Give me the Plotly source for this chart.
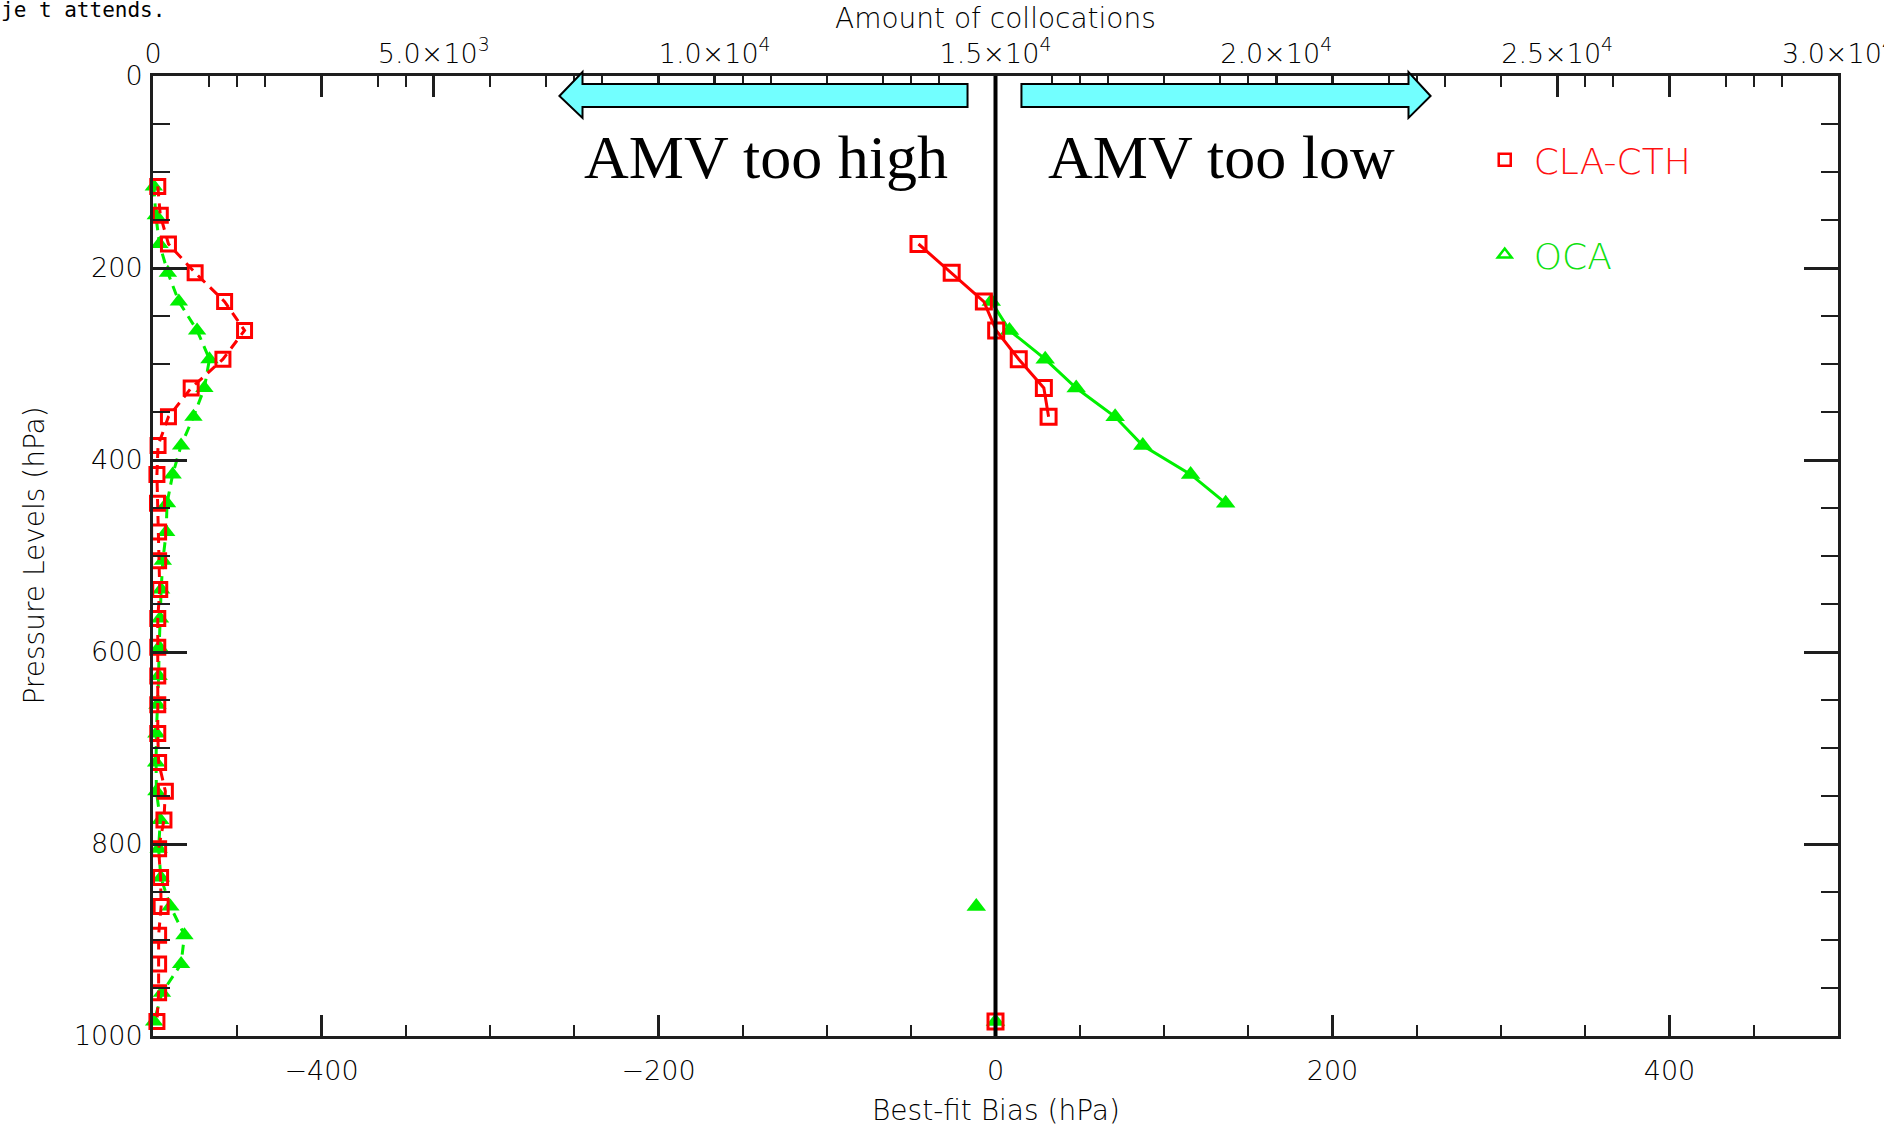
import plotly.graph_objects as go

# ---------------- data ----------------
levels = [115, 145, 175, 205, 235, 265, 295, 325, 355, 385,
          415, 445, 475, 505, 535, 565, 595, 625, 655, 685,
          715, 745, 775, 805, 835, 865, 895, 925, 955, 985]

count_cla = [85, 130, 275, 750, 1275, 1630, 1245, 680, 275, 90,
             70, 80, 100, 100, 120, 85, 85, 85, 85, 85,
             100, 220, 195, 100, 135, 145, 100, 100, 100, 70]

count_oca = [15, 50, 115, 265, 460, 785, 1005, 915, 720, 500,
             350, 250, 235, 175, 145, 125, 110, 100, 80, 60,
             55, 60, 130, 100, 140, 310, 560, 500, 160, 20]

bias_cla = [None, None, -45.7, -26.0, -6.9, 0.4, 13.8, 28.7, 31.5, None,
            None, None, None, None, None, None, None, None, None, None,
            None, None, None, None, None, None, None, None, None, 0.0]

bias_oca = [None, None, None, None, -2.5, 8.3, 29.5, 47.9, 71.0, 87.4,
            115.8, 136.6, None, None, None, None, None, None, None, None,
            None, None, None, None, None, -11.4, None, None, None, 0.0]

count_tickvals = [0, 5000, 10000, 15000, 20000, 25000, 30000]
count_ticktext = ["0", "5.0×10<sup>3</sup>", "1.0×10<sup>4</sup>", "1.5×10<sup>4</sup>",
                  "2.0×10<sup>4</sup>", "2.5×10<sup>4</sup>", "3.0×10<sup>4</sup>"]

series_names = ["CLA-CTH", "OCA"]

# ---------------- style ----------------
RED = "#ff0000"
GREEN = "#00f000"
AX = "#1e1e1e"
TXT = "#000000"
FONT = "DejaVu Sans"
CYAN = "#72ffff"

fig = go.Figure()

# collocation counts (top axis), dashed
fig.add_trace(go.Scatter(
    x=count_oca, y=levels, xaxis="x2", yaxis="y", mode="lines+markers",
    line=dict(color=GREEN, width=3, dash="10px,7px"),
    marker=dict(symbol="triangle-up", size=16, color=GREEN),
    showlegend=False, cliponaxis=False))
fig.add_trace(go.Scatter(
    x=count_cla, y=levels, xaxis="x2", yaxis="y", mode="lines+markers",
    line=dict(color=RED, width=3, dash="10px,7px"),
    marker=dict(symbol="square-open", size=14, color=RED, line=dict(width=3, color=RED)),
    showlegend=False, cliponaxis=False))

# best-fit bias (bottom axis), solid
fig.add_trace(go.Scatter(
    x=bias_oca, y=levels, xaxis="x", yaxis="y", mode="lines+markers",
    line=dict(color=GREEN, width=3),
    marker=dict(symbol="triangle-up", size=17, color=GREEN),
    showlegend=False, cliponaxis=False))
fig.add_trace(go.Scatter(
    x=bias_cla, y=levels, xaxis="x", yaxis="y", mode="lines+markers",
    line=dict(color=RED, width=3),
    marker=dict(symbol="square-open", size=15, color=RED, line=dict(width=3, color=RED)),
    showlegend=False, cliponaxis=False))

# legend entries
fig.add_trace(go.Scatter(
    x=[None], y=[None], mode="markers", legendgroup="a",
    name="<span style='color:#ff1010'>" + series_names[0] + "</span>",
    marker=dict(symbol="square-open", size=12, color=RED, line=dict(width=2.5, color=RED))))
fig.add_trace(go.Scatter(
    x=[None], y=[None], mode="markers", legendgroup="b",
    name="<span style='color:#10e010'>" + series_names[1] + "</span>",
    marker=dict(symbol="triangle-up-open", size=12, color=GREEN, line=dict(width=2.5, color=GREEN))))

tickfont = dict(family=FONT, size=27, color=TXT, weight=200)

fig.update_layout(
    width=1884, height=1131, autosize=False,
    margin=dict(l=153, r=46, t=76, b=95, pad=0, autoexpand=False),
    paper_bgcolor="white", plot_bgcolor="white",
    xaxis=dict(range=[-500, 500], tickmode="linear", tick0=0, dtick=200,
               ticks="inside", ticklen=21, tickwidth=2.5, tickcolor=AX,
               showline=True, linewidth=3, linecolor=AX, mirror="ticks",
               minor=dict(tickmode="linear", tick0=0, dtick=50, ticks="inside",
                          ticklen=11, tickwidth=2, tickcolor=AX),
               showgrid=False, zeroline=False, tickfont=tickfont,
               ticklabelstandoff=9, automargin=False),
    xaxis2=dict(range=[0, 30000], overlaying="x", side="top", anchor="y",
                tickmode="array", tickvals=count_tickvals, ticktext=count_ticktext,
                ticks="inside", ticklen=21, tickwidth=2.5, tickcolor=AX,
                minor=dict(tickmode="linear", tick0=0, dtick=1000, ticks="inside",
                           ticklen=11, tickwidth=2, tickcolor=AX),
                showline=False, showgrid=False, zeroline=False, tickfont=tickfont,
                ticklabelstandoff=7, ticklabeloverflow="allow", automargin=False),
    yaxis=dict(range=[1000, 0], tickmode="linear", tick0=0, dtick=200,
               ticks="inside", ticklen=34, tickwidth=2.5, tickcolor=AX,
               showline=True, linewidth=3, linecolor=AX, mirror="ticks",
               minor=dict(tickmode="linear", tick0=0, dtick=50, ticks="inside",
                          ticklen=17, tickwidth=2, tickcolor=AX),
               showgrid=False, zeroline=False, tickfont=tickfont,
               ticklabelstandoff=2, automargin=False),
    legend=dict(x=0.785, y=0.944, xanchor="left", yanchor="top",
                bgcolor="rgba(0,0,0,0)", borderwidth=0,
                font=dict(family=FONT, size=36, weight=200),
                tracegroupgap=45, itemwidth=48),
    showlegend=True,
)

# zero line
fig.add_shape(type="line", xref="x", yref="paper", x0=0, x1=0, y0=0, y1=1,
              line=dict(color="black", width=4), layer="above")

# arrows (paper coordinates)
left_arrow = ("M 0.2412,0.9792 L 0.2549,1.0042 L 0.2549,0.9917 L 0.4834,0.9917 "
              "L 0.4834,0.9677 L 0.2549,0.9677 L 0.2549,0.9563 Z")
right_arrow = ("M 0.7582,0.9792 L 0.7451,1.0042 L 0.7451,0.9917 L 0.5154,0.9917 "
               "L 0.5154,0.9677 L 0.7451,0.9677 L 0.7451,0.9563 Z")
for p in (left_arrow, right_arrow):
    fig.add_shape(type="path", path=p, xref="paper", yref="paper",
                  fillcolor=CYAN, line=dict(color="black", width=2), layer="above")

serif = dict(family="Liberation Serif", size=62, color="black")
fig.add_annotation(text="AMV too high", x=0.364, y=0.916, xref="paper", yref="paper",
                   showarrow=False, font=serif, xanchor="center", yanchor="middle")
fig.add_annotation(text="AMV too low", x=0.634, y=0.916, xref="paper", yref="paper",
                   showarrow=False, font=serif, xanchor="center", yanchor="middle")

titlefont = dict(family=FONT, size=28, color=TXT, weight=200)
fig.add_annotation(text="Amount of collocations", x=0.5, y=1.06, xref="paper", yref="paper",
                   showarrow=False, font=titlefont, xanchor="center", yanchor="middle")
fig.add_annotation(text="Best-fit Bias (hPa)", x=0.5, y=-0.078, xref="paper", yref="paper",
                   showarrow=False, font=titlefont, xanchor="center", yanchor="middle")
fig.add_annotation(text="Pressure Levels (hPa)", x=-0.0709, y=0.5, xref="paper", yref="paper",
                   showarrow=False, font=titlefont, xanchor="center", yanchor="middle",
                   textangle=-90)
fig.add_annotation(text="je t attends.", x=-0.0911, y=1.069, xref="paper", yref="paper",
                   showarrow=False, font=dict(family="DejaVu Sans Mono", size=21, color="black"),
                   xanchor="left", yanchor="middle")

fig.write_html("out.html", config={"displayModeBar": False},
               post_script="document.body.style.margin='0';")
